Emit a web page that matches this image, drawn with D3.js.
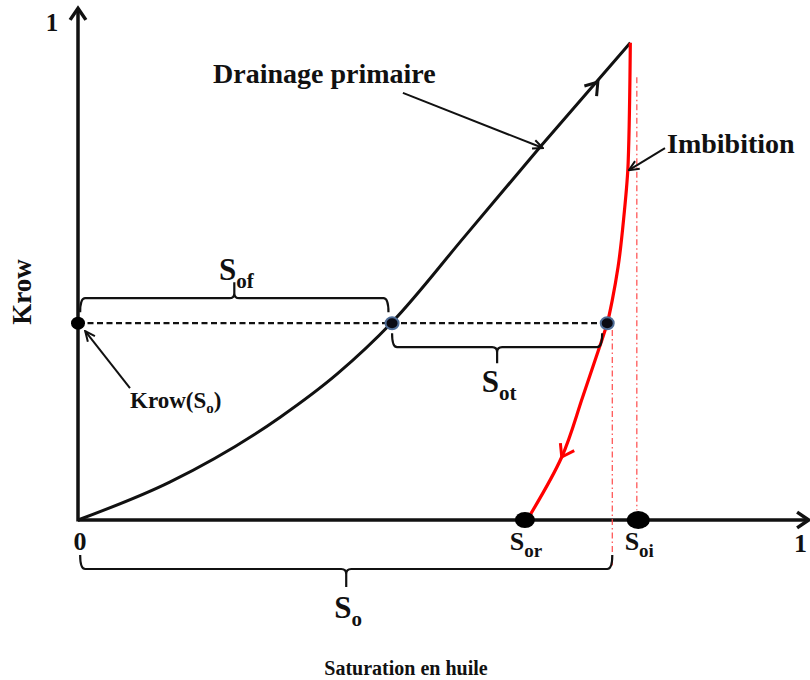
<!DOCTYPE html>
<html>
<head>
<meta charset="utf-8">
<script src="https://cdn.jsdelivr.net/npm/d3@7"></script>
<style>
  body { margin: 0; background: #fff; }
  text { font-family: "Liberation Serif", "Times New Roman", serif; font-weight: bold; fill: #111; }
</style>
</head>
<body>
<div id="chart"></div>
<script>
// schematic Krow vs oil saturation (drainage / imbibition)
var width = 810, height = 680;

// curves
var drainageSo   = [0, 0.127, 0.280, 0.359, 0.435, 0.536, 0.640, 0.765];
var drainageKrow = [0, 0.077, 0.209, 0.297, 0.402, 0.577, 0.758, 0.970];
var imbibitionSo   = [0.765, 0.762, 0.756, 0.748, 0.740, 0.733, 0.722, 0.699, 0.670, 0.622];
var imbibitionKrow = [0.970, 0.726, 0.616, 0.514, 0.447, 0.400, 0.350, 0.250, 0.128, 0.0];

// marked points
var krowLevel = 0.40;
var pointNames = ["Krow", "Sof", "Sot", "Sor", "Soi"];
var pointSo    = [0, 0.435, 0.733, 0.619, 0.776];
var pointKrow  = [0.40, 0.40, 0.40, 0, 0];

// braces
var braceSubs = ["of", "ot", "o"];
var braceFrom = [0.003, 0.435, 0.003];
var braceTo   = [0.430, 0.726, 0.740];

// dash-dot guides
var guideSo   = [0.740, 0.774];
var guideTop  = [0.386, 0.900];
var guideBot  = [-0.096, 0.02];

var svg = d3.select("#chart")
  .append("svg")
    .attr("width", width)
    .attr("height", height);

var x = d3.scaleLinear().domain([0, 1]).range([78, 800]);
var y = d3.scaleLinear().domain([0, 1]).range([520, 28]);

// arrow marker for the annotation pointers
svg.append("defs").append("marker")
    .attr("id", "arr")
    .attr("markerUnits", "userSpaceOnUse")
    .attr("viewBox", "0 0 12 12")
    .attr("refX", 11).attr("refY", 6)
    .attr("markerWidth", 12).attr("markerHeight", 12)
    .attr("orient", "auto")
  .append("path")
    .attr("d", "M1,1.5 L11,6 L1,10.5")
    .attr("fill", "none")
    .attr("stroke", "#111")
    .attr("stroke-width", 2);

function chevron(px, py, ang, len, color, sw) {
  var a = 0.6;
  var p = "M" + (px - len * Math.cos(ang - a)) + "," + (py - len * Math.sin(ang - a)) +
          "L" + px + "," + py +
          "L" + (px - len * Math.cos(ang + a)) + "," + (py - len * Math.sin(ang + a));
  svg.append("path").attr("d", p)
    .attr("fill", "none").attr("stroke", color)
    .attr("stroke-width", sw).attr("stroke-linejoin", "miter");
}

// axes
svg.append("line")
  .attr("x1", x(0)).attr("y1", y(0)).attr("x2", x(1.012)).attr("y2", y(0))
  .attr("stroke", "#111").attr("stroke-width", 3.5);
svg.append("line")
  .attr("x1", x(0)).attr("y1", y(0) + 1.5).attr("x2", x(0)).attr("y2", y(1.04))
  .attr("stroke", "#111").attr("stroke-width", 3.5);
chevron(x(1.012), y(0), 0, 14, "#111", 3.5);
chevron(x(0), y(1.04), -Math.PI / 2, 14, "#111", 3.5);

// dash-dot guides
guideSo.forEach(function(s, i) {
  svg.append("line")
    .attr("x1", x(s)).attr("x2", x(s))
    .attr("y1", y(guideTop[i])).attr("y2", y(guideBot[i]))
    .attr("stroke", "#ff4a4a").attr("stroke-width", 1.2)
    .attr("stroke-dasharray", "6,3,1.5,3");
});

var drainage = d3.zip(drainageSo, drainageKrow);
var imbibition = d3.zip(imbibitionSo, imbibitionKrow);

svg.append("path").datum(drainage)
  .attr("d", d3.line()
    .x(function(d) { return x(d[0]); })
    .y(function(d) { return y(d[1]); })
    .curve(d3.curveMonotoneX))
  .attr("fill", "none")
  .attr("stroke", "#111").attr("stroke-width", 3);

svg.append("path").datum(imbibition)
  .attr("d", d3.line()
    .x(function(d) { return x(d[0]); })
    .y(function(d) { return y(d[1]); })
    .curve(d3.curveMonotoneY))
  .attr("fill", "none")
  .attr("stroke", "#ff0000").attr("stroke-width", 3.2);

// direction arrows on the curves
function curveArrow(p, q, color) {
  var px = x(p[0]), py = y(p[1]);
  var ang = Math.atan2(y(q[1]) - py, x(q[0]) - px);
  chevron(px, py, ang, 14, color, 3);
}
curveArrow([0.720, 0.890], [0.765, 0.970], "#111");
curveArrow([0.670, 0.128], [0.622, 0.0], "#ff0000");

// dashed Krow level
svg.append("line")
  .attr("x1", x(0)).attr("x2", x(pointSo[2]))
  .attr("y1", y(krowLevel)).attr("y2", y(krowLevel))
  .attr("stroke", "#111").attr("stroke-width", 2.2)
  .attr("stroke-dasharray", "6,3.5");

// braces
function bracePath(x1, x2, yb, d, h, t) {
  var r = 5, xm = (x1 + x2) / 2;
  return "M" + x1 + "," + (yb + d * h) +
    "Q" + x1 + "," + yb + " " + (x1 + r) + "," + yb +
    "H" + (xm - r) +
    "Q" + xm + "," + yb + " " + xm + "," + (yb - d * r) +
    "L" + xm + "," + (yb - d * t) +
    "M" + xm + "," + (yb - d * r) +
    "Q" + xm + "," + yb + " " + (xm + r) + "," + yb +
    "H" + (x2 - r) +
    "Q" + x2 + "," + yb + " " + x2 + "," + (yb + d * h);
}
var braceLevel = [y(krowLevel) - 25, y(krowLevel) + 24, y(0) + 49];
var braceDir = [1, -1, -1];
var braceTip = [16, 16, 18];
var labelBase = [y(krowLevel) - 43, y(krowLevel) + 69, y(0) + 98];

braceSubs.forEach(function(sub, i) {
  var x1 = x(braceFrom[i]), x2 = x(braceTo[i]);
  svg.append("path")
    .attr("d", bracePath(x1, x2, braceLevel[i], braceDir[i], 14, braceTip[i]))
    .attr("fill", "none").attr("stroke", "#111").attr("stroke-width", 2.2);
  var t = svg.append("text")
    .attr("x", (x1 + x2) / 2 + 2).attr("y", labelBase[i])
    .attr("text-anchor", "middle").style("font-size", "31px");
  t.append("tspan").text("S");
  t.append("tspan").attr("dy", 8).style("font-size", "21px").text(sub);
});

// points
svg.selectAll(".pt")
  .data(d3.range(pointNames.length))
  .enter().append("ellipse")
    .attr("class", "pt")
    .attr("cx", function(i) { return x(pointSo[i]); })
    .attr("cy", function(i) { return y(pointKrow[i]); })
    .attr("rx", function(i) { return [7, 6.5, 6.5, 10, 11.5][i]; })
    .attr("ry", function(i) { return [6.5, 6, 6, 8, 9][i]; })
    .attr("fill", function(i) { return (i == 1 || i == 2) ? "#0b0b14" : "#000"; })
    .attr("stroke", function(i) { return (i == 1 || i == 2) ? "#4f6d97" : "none"; })
    .attr("stroke-width", 2);

// axis labels
svg.append("text").attr("x", x(0) + 2).attr("y", 550)
  .attr("text-anchor", "middle").style("font-size", "26px").text("0");
svg.append("text").attr("x", 52).attr("y", 31)
  .attr("text-anchor", "middle").style("font-size", "25px").text("1");
svg.append("text").attr("x", 794).attr("y", 552)
  .style("font-size", "26px").text("1");

[3, 4].forEach(function(i) {
  var t = svg.append("text")
    .attr("x", x(pointSo[i]) + 1).attr("y", 550)
    .attr("text-anchor", "middle").style("font-size", "26px");
  t.append("tspan").text("S");
  t.append("tspan").attr("dy", 7).style("font-size", "19px").text(pointNames[i].slice(1));
});

svg.append("text")
  .attr("transform", "translate(31,292) rotate(-90)")
  .attr("text-anchor", "middle").style("font-size", "27px").text("Krow");

svg.append("text").attr("x", 406).attr("y", 675)
  .attr("text-anchor", "middle").style("font-size", "20px").text("Saturation en huile");

// annotations
svg.append("text").attr("x", 213).attr("y", 83)
  .style("font-size", "28px").text("Drainage primaire");
svg.append("text").attr("x", 667).attr("y", 153)
  .style("font-size", "28px").text("Imbibition");
var kt = svg.append("text").attr("x", 130).attr("y", 408).style("font-size", "23px");
kt.append("tspan").text("Krow(S");
kt.append("tspan").attr("dy", 5).style("font-size", "15px").text("o");
kt.append("tspan").attr("dy", -5).text(")");

var pointers = [
  [[0.450, 0.868], [0.644, 0.756]],
  [[0.813, 0.756], [0.763, 0.711]],
  [[0.072, 0.268], [0.010, 0.384]]
];
pointers.forEach(function(p) {
  svg.append("line")
    .attr("x1", x(p[0][0])).attr("y1", y(p[0][1]))
    .attr("x2", x(p[1][0])).attr("y2", y(p[1][1]))
    .attr("stroke", "#111").attr("stroke-width", 2)
    .attr("marker-end", "url(#arr)");
});
</script>
</body>
</html>
